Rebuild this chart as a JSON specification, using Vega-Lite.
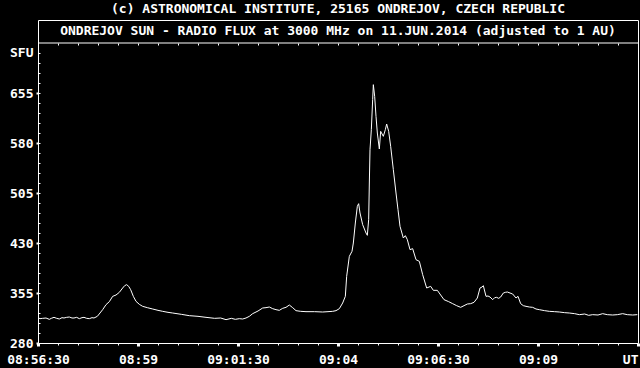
{
  "$schema": "https://vega.github.io/schema/vega-lite/v6.json",
  "width": 600,
  "height": 323,
  "autosize": {"type": "none"},
  "padding": {"left": 38, "top": 20, "right": 2, "bottom": 25},
  "background": "black",
  "config": {
    "view": {"stroke": "white", "strokeWidth": 1},
    "axis": {"grid": false, "domain": false, "title": null, "tickColor": "white", "labelColor": "white", "labelFont": "DejaVu Sans Mono", "labelFontSize": 13, "labelFontWeight": "bold"}
  },
  "title": {
    "text": "(c) ASTRONOMICAL INSTITUTE, 25165 ONDREJOV, CZECH REPUBLIC",
    "subtitle": "ONDREJOV SUN - RADIO FLUX at 3000 MHz on 11.JUN.2014 (adjusted to 1 AU)",
    "anchor": "middle",
    "frame": "group",
    "offset": -18,
    "subtitlePadding": 9,
    "font": "DejaVu Sans Mono",
    "fontSize": 13,
    "fontWeight": "bold",
    "color": "white",
    "subtitleFont": "DejaVu Sans Mono",
    "subtitleFontSize": 13,
    "subtitleFontWeight": "bold",
    "subtitleColor": "white"
  },
  "data": {"name": "flux"},
  "resolve": {"axis": {"x": "independent", "y": "independent"}},
  "layer": [
    {
      "data": {"values": [{"sep": 730}]},
      "mark": {"type": "rule", "color": "white", "strokeWidth": 1},
      "encoding": {
        "y": {
          "field": "sep", "type": "quantitative",
          "scale": {"domain": [280, 764.5], "nice": false, "zero": false},
          "axis": {"orient": "left", "offset": -2, "labels": false, "tickSize": 2, "tickWidth": 1,
            "values": [295,310,325,340,355,370,385,400,415,430,445,460,475,490,505,520,535,550,565,580,595,610,625,640,655,670,685,700,715]}
        }
      }
    },
    {
      "mark": {"type": "line", "color": "white", "strokeWidth": 1},
      "encoding": {
        "x": {
          "field": "t", "type": "temporal",
          "scale": {"type": "utc", "domain": [{"year": 2014, "month": 6, "date": 11, "hours": 8, "minutes": 56, "seconds": 30, "utc": true}, {"year": 2014, "month": 6, "date": 11, "hours": 9, "minutes": 11, "seconds": 30, "utc": true}]},
          "axis": {
            "orient": "bottom", "tickSize": 3, "tickWidth": 3, "labelPadding": 7, "labelFlush": false,
            "labelAlign": {"condition": {"test": "utcFormat(datum.value, '%H:%M:%S') == '09:11:30'", "value": "right"}, "value": "center"},
            "labelExpr": "utcFormat(datum.value, '%H:%M:%S') == '09:11:30' ? 'UT' : (utcFormat(datum.value, '%S') == '00' ? utcFormat(datum.value, '%H:%M') : utcFormat(datum.value, '%H:%M:%S'))",
            "values": [
              {"year": 2014, "month": 6, "date": 11, "hours": 8, "minutes": 56, "seconds": 30, "utc": true},
              {"year": 2014, "month": 6, "date": 11, "hours": 8, "minutes": 59, "seconds": 0, "utc": true},
              {"year": 2014, "month": 6, "date": 11, "hours": 9, "minutes": 1, "seconds": 30, "utc": true},
              {"year": 2014, "month": 6, "date": 11, "hours": 9, "minutes": 4, "seconds": 0, "utc": true},
              {"year": 2014, "month": 6, "date": 11, "hours": 9, "minutes": 6, "seconds": 30, "utc": true},
              {"year": 2014, "month": 6, "date": 11, "hours": 9, "minutes": 9, "seconds": 0, "utc": true},
              {"year": 2014, "month": 6, "date": 11, "hours": 9, "minutes": 11, "seconds": 30, "utc": true}
            ]
          }
        },
        "y": {
          "field": "sfu", "type": "quantitative",
          "scale": {"domain": [280, 764.5], "nice": false, "zero": false},
          "axis": {
            "orient": "left", "tickSize": 2, "tickWidth": 2, "labelPadding": 3,
            "tickOpacity": {"condition": {"test": "datum.value == 716", "value": 0}, "value": 1},
            "labelExpr": "datum.value == 716 ? 'SFU' : datum.label",
            "values": [280, 355, 430, 505, 580, 655, 716]
          }
        }
      }
    },
    {
      "mark": {"type": "point", "opacity": 0},
      "encoding": {
        "x": {
          "field": "t", "type": "temporal",
          "axis": {"orient": "bottom", "labels": false, "tickSize": 2, "tickWidth": 1,
            "values": [
              {"year": 2014, "month": 6, "date": 11, "hours": 8, "minutes": 57, "seconds": 0, "utc": true},
              {"year": 2014, "month": 6, "date": 11, "hours": 8, "minutes": 57, "seconds": 30, "utc": true},
              {"year": 2014, "month": 6, "date": 11, "hours": 8, "minutes": 58, "seconds": 0, "utc": true},
              {"year": 2014, "month": 6, "date": 11, "hours": 8, "minutes": 58, "seconds": 30, "utc": true},
              {"year": 2014, "month": 6, "date": 11, "hours": 8, "minutes": 59, "seconds": 30, "utc": true},
              {"year": 2014, "month": 6, "date": 11, "hours": 9, "minutes": 0, "seconds": 0, "utc": true},
              {"year": 2014, "month": 6, "date": 11, "hours": 9, "minutes": 0, "seconds": 30, "utc": true},
              {"year": 2014, "month": 6, "date": 11, "hours": 9, "minutes": 1, "seconds": 0, "utc": true},
              {"year": 2014, "month": 6, "date": 11, "hours": 9, "minutes": 2, "seconds": 0, "utc": true},
              {"year": 2014, "month": 6, "date": 11, "hours": 9, "minutes": 2, "seconds": 30, "utc": true},
              {"year": 2014, "month": 6, "date": 11, "hours": 9, "minutes": 3, "seconds": 0, "utc": true},
              {"year": 2014, "month": 6, "date": 11, "hours": 9, "minutes": 3, "seconds": 30, "utc": true},
              {"year": 2014, "month": 6, "date": 11, "hours": 9, "minutes": 4, "seconds": 30, "utc": true},
              {"year": 2014, "month": 6, "date": 11, "hours": 9, "minutes": 5, "seconds": 0, "utc": true},
              {"year": 2014, "month": 6, "date": 11, "hours": 9, "minutes": 5, "seconds": 30, "utc": true},
              {"year": 2014, "month": 6, "date": 11, "hours": 9, "minutes": 6, "seconds": 0, "utc": true},
              {"year": 2014, "month": 6, "date": 11, "hours": 9, "minutes": 7, "seconds": 0, "utc": true},
              {"year": 2014, "month": 6, "date": 11, "hours": 9, "minutes": 7, "seconds": 30, "utc": true},
              {"year": 2014, "month": 6, "date": 11, "hours": 9, "minutes": 8, "seconds": 0, "utc": true},
              {"year": 2014, "month": 6, "date": 11, "hours": 9, "minutes": 8, "seconds": 30, "utc": true},
              {"year": 2014, "month": 6, "date": 11, "hours": 9, "minutes": 9, "seconds": 30, "utc": true},
              {"year": 2014, "month": 6, "date": 11, "hours": 9, "minutes": 10, "seconds": 0, "utc": true},
              {"year": 2014, "month": 6, "date": 11, "hours": 9, "minutes": 10, "seconds": 30, "utc": true},
              {"year": 2014, "month": 6, "date": 11, "hours": 9, "minutes": 11, "seconds": 0, "utc": true}
            ]}
        },
        "y": {"field": "sfu", "type": "quantitative", "axis": null}
      }
    },
    {
      "mark": {"type": "point", "opacity": 0},
      "encoding": {
        "x": {
          "field": "t", "type": "temporal",
          "axis": {"orient": "top", "offset": -25, "labels": false, "tickSize": 2, "tickWidth": 1,
            "values": [
              {"year": 2014, "month": 6, "date": 11, "hours": 8, "minutes": 57, "seconds": 0, "utc": true},
              {"year": 2014, "month": 6, "date": 11, "hours": 8, "minutes": 57, "seconds": 30, "utc": true},
              {"year": 2014, "month": 6, "date": 11, "hours": 8, "minutes": 58, "seconds": 0, "utc": true},
              {"year": 2014, "month": 6, "date": 11, "hours": 8, "minutes": 58, "seconds": 30, "utc": true},
              {"year": 2014, "month": 6, "date": 11, "hours": 8, "minutes": 59, "seconds": 0, "utc": true},
              {"year": 2014, "month": 6, "date": 11, "hours": 8, "minutes": 59, "seconds": 30, "utc": true},
              {"year": 2014, "month": 6, "date": 11, "hours": 9, "minutes": 0, "seconds": 0, "utc": true},
              {"year": 2014, "month": 6, "date": 11, "hours": 9, "minutes": 0, "seconds": 30, "utc": true},
              {"year": 2014, "month": 6, "date": 11, "hours": 9, "minutes": 1, "seconds": 0, "utc": true},
              {"year": 2014, "month": 6, "date": 11, "hours": 9, "minutes": 1, "seconds": 30, "utc": true},
              {"year": 2014, "month": 6, "date": 11, "hours": 9, "minutes": 2, "seconds": 0, "utc": true},
              {"year": 2014, "month": 6, "date": 11, "hours": 9, "minutes": 2, "seconds": 30, "utc": true},
              {"year": 2014, "month": 6, "date": 11, "hours": 9, "minutes": 3, "seconds": 0, "utc": true},
              {"year": 2014, "month": 6, "date": 11, "hours": 9, "minutes": 3, "seconds": 30, "utc": true},
              {"year": 2014, "month": 6, "date": 11, "hours": 9, "minutes": 4, "seconds": 0, "utc": true},
              {"year": 2014, "month": 6, "date": 11, "hours": 9, "minutes": 4, "seconds": 30, "utc": true},
              {"year": 2014, "month": 6, "date": 11, "hours": 9, "minutes": 5, "seconds": 0, "utc": true},
              {"year": 2014, "month": 6, "date": 11, "hours": 9, "minutes": 5, "seconds": 30, "utc": true},
              {"year": 2014, "month": 6, "date": 11, "hours": 9, "minutes": 6, "seconds": 0, "utc": true},
              {"year": 2014, "month": 6, "date": 11, "hours": 9, "minutes": 6, "seconds": 30, "utc": true},
              {"year": 2014, "month": 6, "date": 11, "hours": 9, "minutes": 7, "seconds": 0, "utc": true},
              {"year": 2014, "month": 6, "date": 11, "hours": 9, "minutes": 7, "seconds": 30, "utc": true},
              {"year": 2014, "month": 6, "date": 11, "hours": 9, "minutes": 8, "seconds": 0, "utc": true},
              {"year": 2014, "month": 6, "date": 11, "hours": 9, "minutes": 8, "seconds": 30, "utc": true},
              {"year": 2014, "month": 6, "date": 11, "hours": 9, "minutes": 9, "seconds": 0, "utc": true},
              {"year": 2014, "month": 6, "date": 11, "hours": 9, "minutes": 9, "seconds": 30, "utc": true},
              {"year": 2014, "month": 6, "date": 11, "hours": 9, "minutes": 10, "seconds": 0, "utc": true},
              {"year": 2014, "month": 6, "date": 11, "hours": 9, "minutes": 10, "seconds": 30, "utc": true},
              {"year": 2014, "month": 6, "date": 11, "hours": 9, "minutes": 11, "seconds": 0, "utc": true}
            ]}
        },
        "y": {"field": "sfu", "type": "quantitative", "axis": null}
      }
    }
  ],
  "datasets": {
    "flux": [
      {"t": "2014-06-11T08:56:30Z", "sfu": 318}, {"t": "2014-06-11T08:56:33Z", "sfu": 316.5}, {"t": "2014-06-11T08:56:37Z", "sfu": 317}, {"t": "2014-06-11T08:56:42Z", "sfu": 317.5},
      {"t": "2014-06-11T08:56:47Z", "sfu": 315.5}, {"t": "2014-06-11T08:56:50Z", "sfu": 317}, {"t": "2014-06-11T08:56:54Z", "sfu": 318.5}, {"t": "2014-06-11T08:56:58Z", "sfu": 317},
      {"t": "2014-06-11T08:57:02Z", "sfu": 316}, {"t": "2014-06-11T08:57:06Z", "sfu": 318}, {"t": "2014-06-11T08:57:09Z", "sfu": 317.5}, {"t": "2014-06-11T08:57:13Z", "sfu": 318.5},
      {"t": "2014-06-11T08:57:17Z", "sfu": 319}, {"t": "2014-06-11T08:57:21Z", "sfu": 317.5}, {"t": "2014-06-11T08:57:24Z", "sfu": 317.5}, {"t": "2014-06-11T08:57:28Z", "sfu": 318.5},
      {"t": "2014-06-11T08:57:32Z", "sfu": 316.5}, {"t": "2014-06-11T08:57:36Z", "sfu": 318}, {"t": "2014-06-11T08:57:39Z", "sfu": 318.5}, {"t": "2014-06-11T08:57:43Z", "sfu": 317},
      {"t": "2014-06-11T08:57:47Z", "sfu": 316.5}, {"t": "2014-06-11T08:57:51Z", "sfu": 318}, {"t": "2014-06-11T08:57:54Z", "sfu": 317.5}, {"t": "2014-06-11T08:57:59Z", "sfu": 320},
      {"t": "2014-06-11T08:58:03Z", "sfu": 325}, {"t": "2014-06-11T08:58:07Z", "sfu": 330}, {"t": "2014-06-11T08:58:12Z", "sfu": 337.5}, {"t": "2014-06-11T08:58:17Z", "sfu": 342},
      {"t": "2014-06-11T08:58:22Z", "sfu": 350}, {"t": "2014-06-11T08:58:27Z", "sfu": 352}, {"t": "2014-06-11T08:58:32Z", "sfu": 356}, {"t": "2014-06-11T08:58:37Z", "sfu": 362.5},
      {"t": "2014-06-11T08:58:40Z", "sfu": 366}, {"t": "2014-06-11T08:58:43Z", "sfu": 367.5}, {"t": "2014-06-11T08:58:46Z", "sfu": 365}, {"t": "2014-06-11T08:58:49Z", "sfu": 360},
      {"t": "2014-06-11T08:58:53Z", "sfu": 350}, {"t": "2014-06-11T08:58:57Z", "sfu": 342.5}, {"t": "2014-06-11T08:59:02Z", "sfu": 338}, {"t": "2014-06-11T08:59:07Z", "sfu": 335},
      {"t": "2014-06-11T08:59:14Z", "sfu": 333}, {"t": "2014-06-11T08:59:22Z", "sfu": 331}, {"t": "2014-06-11T08:59:30Z", "sfu": 329}, {"t": "2014-06-11T08:59:37Z", "sfu": 327.5},
      {"t": "2014-06-11T08:59:45Z", "sfu": 326}, {"t": "2014-06-11T08:59:52Z", "sfu": 325}, {"t": "2014-06-11T09:00:05Z", "sfu": 323}, {"t": "2014-06-11T09:00:17Z", "sfu": 321},
      {"t": "2014-06-11T09:00:30Z", "sfu": 320}, {"t": "2014-06-11T09:00:42Z", "sfu": 318.5}, {"t": "2014-06-11T09:00:55Z", "sfu": 317}, {"t": "2014-06-11T09:01:04Z", "sfu": 317.5},
      {"t": "2014-06-11T09:01:12Z", "sfu": 315}, {"t": "2014-06-11T09:01:20Z", "sfu": 317}, {"t": "2014-06-11T09:01:26Z", "sfu": 315.5}, {"t": "2014-06-11T09:01:32Z", "sfu": 316.5},
      {"t": "2014-06-11T09:01:37Z", "sfu": 316}, {"t": "2014-06-11T09:01:42Z", "sfu": 317.5}, {"t": "2014-06-11T09:01:47Z", "sfu": 320}, {"t": "2014-06-11T09:01:52Z", "sfu": 324},
      {"t": "2014-06-11T09:02:00Z", "sfu": 328}, {"t": "2014-06-11T09:02:07Z", "sfu": 332.5}, {"t": "2014-06-11T09:02:12Z", "sfu": 333}, {"t": "2014-06-11T09:02:17Z", "sfu": 334},
      {"t": "2014-06-11T09:02:22Z", "sfu": 331.5}, {"t": "2014-06-11T09:02:27Z", "sfu": 330}, {"t": "2014-06-11T09:02:32Z", "sfu": 329}, {"t": "2014-06-11T09:02:37Z", "sfu": 332},
      {"t": "2014-06-11T09:02:42Z", "sfu": 333.5}, {"t": "2014-06-11T09:02:47Z", "sfu": 337}, {"t": "2014-06-11T09:02:52Z", "sfu": 333}, {"t": "2014-06-11T09:02:57Z", "sfu": 328.5},
      {"t": "2014-06-11T09:03:04Z", "sfu": 327.5}, {"t": "2014-06-11T09:03:12Z", "sfu": 327}, {"t": "2014-06-11T09:03:25Z", "sfu": 327}, {"t": "2014-06-11T09:03:37Z", "sfu": 326.5},
      {"t": "2014-06-11T09:03:45Z", "sfu": 327}, {"t": "2014-06-11T09:03:52Z", "sfu": 327.5}, {"t": "2014-06-11T09:03:57Z", "sfu": 328.5}, {"t": "2014-06-11T09:04:02Z", "sfu": 331.5},
      {"t": "2014-06-11T09:04:07Z", "sfu": 340}, {"t": "2014-06-11T09:04:11Z", "sfu": 350}, {"t": "2014-06-11T09:04:13Z", "sfu": 380}, {"t": "2014-06-11T09:04:17Z", "sfu": 410},
      {"t": "2014-06-11T09:04:21Z", "sfu": 417.5}, {"t": "2014-06-11T09:04:23Z", "sfu": 430}, {"t": "2014-06-11T09:04:26Z", "sfu": 460}, {"t": "2014-06-11T09:04:29Z", "sfu": 485},
      {"t": "2014-06-11T09:04:31Z", "sfu": 489}, {"t": "2014-06-11T09:04:33Z", "sfu": 475}, {"t": "2014-06-11T09:04:37Z", "sfu": 457.5}, {"t": "2014-06-11T09:04:42Z", "sfu": 445},
      {"t": "2014-06-11T09:04:44Z", "sfu": 441.5}, {"t": "2014-06-11T09:04:46Z", "sfu": 465}, {"t": "2014-06-11T09:04:47Z", "sfu": 520}, {"t": "2014-06-11T09:04:48Z", "sfu": 570},
      {"t": "2014-06-11T09:04:50Z", "sfu": 600}, {"t": "2014-06-11T09:04:52Z", "sfu": 645}, {"t": "2014-06-11T09:04:53Z", "sfu": 667.5}, {"t": "2014-06-11T09:04:55Z", "sfu": 650},
      {"t": "2014-06-11T09:04:57Z", "sfu": 620}, {"t": "2014-06-11T09:04:59Z", "sfu": 595}, {"t": "2014-06-11T09:05:02Z", "sfu": 571}, {"t": "2014-06-11T09:05:04Z", "sfu": 597.5},
      {"t": "2014-06-11T09:05:08Z", "sfu": 590}, {"t": "2014-06-11T09:05:11Z", "sfu": 600}, {"t": "2014-06-11T09:05:13Z", "sfu": 608.5}, {"t": "2014-06-11T09:05:16Z", "sfu": 597.5},
      {"t": "2014-06-11T09:05:19Z", "sfu": 575}, {"t": "2014-06-11T09:05:23Z", "sfu": 540}, {"t": "2014-06-11T09:05:27Z", "sfu": 505}, {"t": "2014-06-11T09:05:30Z", "sfu": 480},
      {"t": "2014-06-11T09:05:33Z", "sfu": 455}, {"t": "2014-06-11T09:05:38Z", "sfu": 437.5}, {"t": "2014-06-11T09:05:41Z", "sfu": 441}, {"t": "2014-06-11T09:05:44Z", "sfu": 435},
      {"t": "2014-06-11T09:05:48Z", "sfu": 420}, {"t": "2014-06-11T09:05:52Z", "sfu": 421.5}, {"t": "2014-06-11T09:05:57Z", "sfu": 405}, {"t": "2014-06-11T09:06:02Z", "sfu": 402.5},
      {"t": "2014-06-11T09:06:07Z", "sfu": 382.5}, {"t": "2014-06-11T09:06:13Z", "sfu": 362.5}, {"t": "2014-06-11T09:06:19Z", "sfu": 365}, {"t": "2014-06-11T09:06:23Z", "sfu": 359},
      {"t": "2014-06-11T09:06:29Z", "sfu": 359}, {"t": "2014-06-11T09:06:34Z", "sfu": 352}, {"t": "2014-06-11T09:06:39Z", "sfu": 345}, {"t": "2014-06-11T09:06:46Z", "sfu": 342},
      {"t": "2014-06-11T09:06:52Z", "sfu": 339}, {"t": "2014-06-11T09:06:58Z", "sfu": 336}, {"t": "2014-06-11T09:07:04Z", "sfu": 333.5}, {"t": "2014-06-11T09:07:09Z", "sfu": 336},
      {"t": "2014-06-11T09:07:14Z", "sfu": 338.5}, {"t": "2014-06-11T09:07:19Z", "sfu": 339}, {"t": "2014-06-11T09:07:24Z", "sfu": 341}, {"t": "2014-06-11T09:07:29Z", "sfu": 347.5},
      {"t": "2014-06-11T09:07:33Z", "sfu": 362.5}, {"t": "2014-06-11T09:07:36Z", "sfu": 364}, {"t": "2014-06-11T09:07:38Z", "sfu": 366}, {"t": "2014-06-11T09:07:42Z", "sfu": 350},
      {"t": "2014-06-11T09:07:45Z", "sfu": 350.5}, {"t": "2014-06-11T09:07:48Z", "sfu": 349}, {"t": "2014-06-11T09:07:52Z", "sfu": 345}, {"t": "2014-06-11T09:07:55Z", "sfu": 348},
      {"t": "2014-06-11T09:07:58Z", "sfu": 348.5}, {"t": "2014-06-11T09:08:01Z", "sfu": 347}, {"t": "2014-06-11T09:08:04Z", "sfu": 349}, {"t": "2014-06-11T09:08:08Z", "sfu": 355},
      {"t": "2014-06-11T09:08:11Z", "sfu": 356}, {"t": "2014-06-11T09:08:14Z", "sfu": 356.5}, {"t": "2014-06-11T09:08:18Z", "sfu": 355}, {"t": "2014-06-11T09:08:22Z", "sfu": 353.5},
      {"t": "2014-06-11T09:08:27Z", "sfu": 347.5}, {"t": "2014-06-11T09:08:30Z", "sfu": 350}, {"t": "2014-06-11T09:08:34Z", "sfu": 339}, {"t": "2014-06-11T09:08:38Z", "sfu": 336},
      {"t": "2014-06-11T09:08:42Z", "sfu": 335}, {"t": "2014-06-11T09:08:47Z", "sfu": 334}, {"t": "2014-06-11T09:08:52Z", "sfu": 333.5}, {"t": "2014-06-11T09:08:57Z", "sfu": 331},
      {"t": "2014-06-11T09:09:02Z", "sfu": 330}, {"t": "2014-06-11T09:09:10Z", "sfu": 328.5}, {"t": "2014-06-11T09:09:17Z", "sfu": 327.5}, {"t": "2014-06-11T09:09:25Z", "sfu": 327},
      {"t": "2014-06-11T09:09:32Z", "sfu": 326.5}, {"t": "2014-06-11T09:09:40Z", "sfu": 325.5}, {"t": "2014-06-11T09:09:47Z", "sfu": 325}, {"t": "2014-06-11T09:09:55Z", "sfu": 324},
      {"t": "2014-06-11T09:10:02Z", "sfu": 322.5}, {"t": "2014-06-11T09:10:10Z", "sfu": 323.5}, {"t": "2014-06-11T09:10:16Z", "sfu": 321.5}, {"t": "2014-06-11T09:10:22Z", "sfu": 322.5},
      {"t": "2014-06-11T09:10:30Z", "sfu": 322}, {"t": "2014-06-11T09:10:37Z", "sfu": 324}, {"t": "2014-06-11T09:10:44Z", "sfu": 322.5}, {"t": "2014-06-11T09:10:52Z", "sfu": 322},
      {"t": "2014-06-11T09:10:59Z", "sfu": 322.5}, {"t": "2014-06-11T09:11:07Z", "sfu": 324}, {"t": "2014-06-11T09:11:14Z", "sfu": 322.5}, {"t": "2014-06-11T09:11:22Z", "sfu": 322},
      {"t": "2014-06-11T09:11:29Z", "sfu": 322.5}
    ]
  }
}
